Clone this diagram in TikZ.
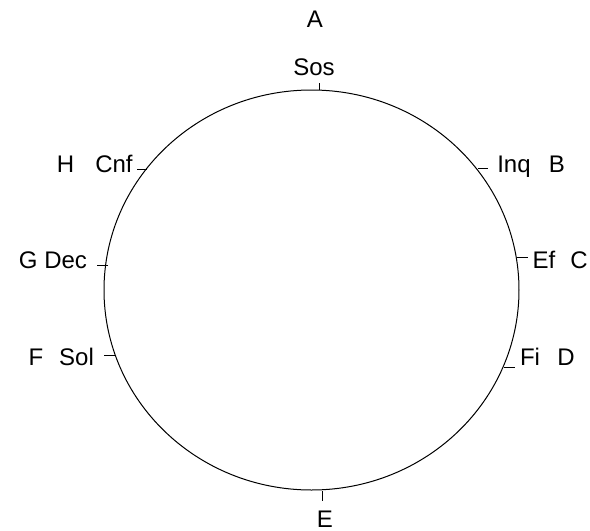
\documentclass[tikz,border=0pt]{standalone}
\usepackage{fontspec}
\setmainfont{Liberation Sans}
\begin{document}
\begin{tikzpicture}[x=1pt, y=-1pt, line cap=butt, line join=round,
    lbl/.style={inner sep=0pt, anchor=base, font=\fontsize{24}{28}\selectfont},
    tickmark/.style={line width=1pt}]
  \useasboundingbox (0,0) rectangle (590,531);

  % Ring
  \coordinate (O) at (311.5, 290);
  \draw[line width=1pt] (O) ellipse [x radius=207.5, y radius=200];

  % Tick ends: on the ring (0) and outside (1)
  \coordinate (A0) at (319, 90);   \coordinate (A1) at (319, 83);
  \coordinate (B0) at (478, 168.5); \coordinate (B1) at (488, 168.5);
  \coordinate (C0) at (517, 257);  \coordinate (C1) at (528, 257);
  \coordinate (D0) at (504, 367.5); \coordinate (D1) at (515, 367.5);
  \coordinate (E0) at (322, 491);  \coordinate (E1) at (322, 500.5);
  \coordinate (F0) at (116, 355);  \coordinate (F1) at (104, 355);
  \coordinate (G0) at (108, 265);  \coordinate (G1) at (97, 265);
  \coordinate (H0) at (147, 169);  \coordinate (H1) at (137, 169);

  % Ticks
  \foreach \p in {A,B,C,D,E,F,G,H}
    \draw[tickmark] (\p0) -- (\p1);

  % Labels
  \node[lbl] (nA)   at (315, 27)  {A};
  \node[lbl] (nSos) at (314, 75)  {Sos};
  \node[lbl] (nInq) at (514, 172) {Inq};
  \node[lbl] (nB)   at (557, 172) {B};
  \node[lbl] (nEf)  at (544, 268) {Ef};
  \node[lbl] (nC)   at (579, 268) {C};
  \node[lbl] (nFi)  at (530, 365) {Fi};
  \node[lbl] (nD)   at (566, 365) {D};
  \node[lbl] (nE)   at (325, 527) {E};
  \node[lbl] (nF)   at (36, 365)  {F};
  \node[lbl] (nSol) at (76.5, 365) {Sol};
  \node[lbl] (nGD)  at (53, 268)  {G Dec};
  \node[lbl] (nH)   at (65.5, 172) {H};
  \node[lbl] (nCnf) at (114, 172) {Cnf};
\end{tikzpicture}
\end{document}
